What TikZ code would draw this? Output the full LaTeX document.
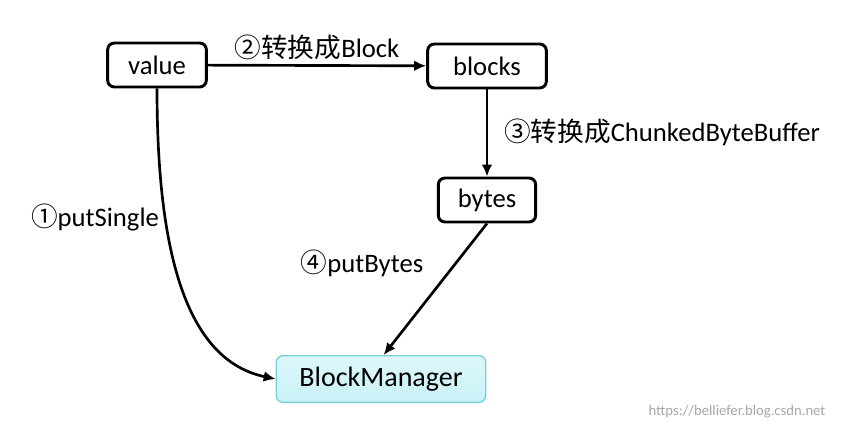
\documentclass[tikz,border=0pt]{standalone}
\usepackage{fontspec}
\setmainfont{Carlito}
\newfontfamily\cjk{Noto Sans CJK SC}
\usetikzlibrary{arrows.meta}
\definecolor{mgrcyan}{HTML}{C8F2F6}
\definecolor{mgredge}{HTML}{7CCFD8}
\tikzset{
  box/.style={rectangle, draw, line width=2.2pt, rounded corners=5pt, font=\fontsize{20}{24}\selectfont, minimum height=33pt, inner xsep=6pt},
  mgr/.style={rectangle, draw=mgredge, line width=1pt, rounded corners=5pt, top color=mgrcyan!60, bottom color=mgrcyan, font=\fontsize{21}{25}\selectfont, minimum width=157pt, minimum height=35pt},
  lbl/.style={font=\fontsize{20}{24}\selectfont},
  link/.style={-{Latex[length=9pt,width=8pt]}, line width=2pt}
}
\begin{document}
\begin{tikzpicture}[x=0.75pt,y=-0.75pt]
  \useasboundingbox (0,0) rectangle (846,431);
  \node[box, minimum width=74pt] (value) at (157,65) {value};
  \node[box, minimum width=89pt] (blocks) at (487,66) {blocks};
  \node[box, minimum width=73pt] (bytes) at (487,200) {bytes};
  \node[mgr] (manager) at (381,379) {BlockManager};
  \draw[link] (value) -- node[above, lbl] {{\cjk ②转换成}Block} (blocks);
  \draw[link] (blocks) -- (bytes);
  \node[lbl] (lbl3) at (662,132) {{\cjk ③转换成}ChunkedByteBuffer};
  \draw[link] (bytes.south) -- ([xshift=2pt]manager.north);
  \node[lbl] (lbl4) at (362,263) {{\cjk ④}putBytes};
  \draw[link] (value.south) .. controls (157,250) and (185,360) .. (manager.west);
  \node[lbl] (lbl1) at (95,218) {{\cjk ①}putSingle};
  \node[font=\fontsize{11}{13}\selectfont, text=gray!70] (mark) at (737,412) {https://belliefer.blog.csdn.net};
\end{tikzpicture}
\end{document}
